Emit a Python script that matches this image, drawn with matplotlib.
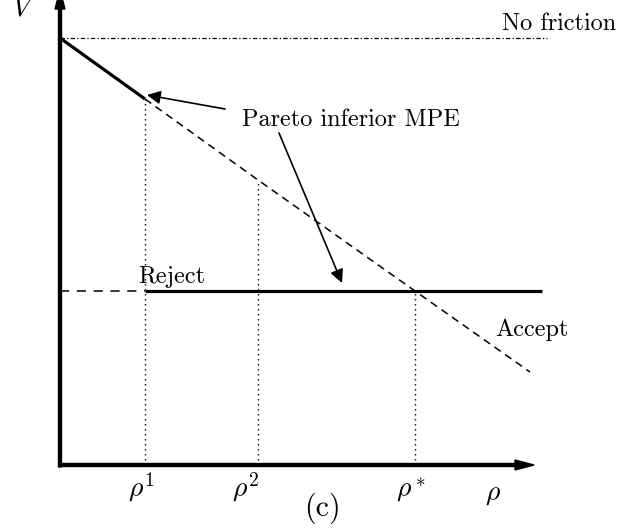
import matplotlib.pyplot as plt

plt.rcParams['mathtext.fontset'] = 'cm'

# values (origin at the corner of the axes, y upwards)
rho_names = [r'$\rho^1$', r'$\rho^2$', r'$\rho^*$']
rho_vals = [85, 198, 355]
accept_rho = [0, 85, 198, 355, 470]
accept_v = [427, 366, 285, 174, 93]
reject_rho = [0, 85, 482]
reject_v = [174, 174, 174]
nofriction_rho = [0, 487]
nofriction_v = [427, 427]
x_end = 474
y_end = 465

fig = plt.figure(figsize=(6.21, 5.29), dpi=100)
ax = fig.add_axes([0, 0, 1, 1])
ax.set_xlim(-60, 561)
ax.set_ylim(-64, 465)
ax.axis('off')

TXT = dict(fontfamily='cmr10', fontsize=17.5, color='k')

# axes with arrow heads
ax.arrow(0, 0, x_end, 0, width=3, head_width=10, head_length=19,
         length_includes_head=True, color='k', zorder=5)
ax.arrow(0, -2, 0, y_end + 12, width=3, head_width=10, head_length=19,
         length_includes_head=True, color='k', zorder=5)

# no friction level
ax.plot(nofriction_rho, nofriction_v, color='k', lw=0.9, dashes=(3.5, 1.8, 1, 1.8))

# accept curve: solid up to rho^1, dashed afterwards
ax.plot(accept_rho[:2], accept_v[:2], color='k', lw=2.3, solid_capstyle='butt')
ax.plot(accept_rho[1:], accept_v[1:], color='k', lw=1.1, dashes=(5, 3.5))

# reject level: dashed up to rho^1, solid afterwards
ax.plot(reject_rho[:2], reject_v[:2], color='k', lw=1.1, dashes=(6, 5))
ax.plot(reject_rho[1:], reject_v[1:], color='k', lw=2.3, solid_capstyle='butt')

# dotted verticals
tops = [accept_v[1], accept_v[2], reject_v[0]]
for r, t in zip(rho_vals, tops):
    ax.plot([r, r], [0, t], color='k', lw=1.0, dashes=(1, 2.6))

# tick labels
label_x = [81, 186, 351]
for name, lx in zip(rho_names, label_x):
    ax.text(lx, -32, name, fontsize=20, ha='center', va='baseline')
ax.text(433, -35, r'$\rho$', fontsize=20, ha='center', va='baseline')
ax.text(-36, 450, r'$V$', fontsize=20, ha='center', va='baseline')
ax.text(262, -43, '(c)', fontfamily='cmr10', fontsize=21.5, ha='center', va='center')

# curve labels
ax.text(442, 435, 'No friction', ha='left', va='baseline', **TXT)
ax.text(78, 182, 'Reject', ha='left', va='baseline', **TXT)
ax.text(435, 129, 'Accept', ha='left', va='baseline', **TXT)
ax.text(182, 339, 'Pareto inferior MPE', ha='left', va='baseline', **TXT)

arrow = dict(arrowstyle='-|>', lw=1.2, color='k', mutation_scale=20,
             shrinkA=0, shrinkB=0)
ax.annotate('', xy=(87, 370), xytext=(165, 356), arrowprops=arrow)
ax.annotate('', xy=(282, 182), xytext=(219, 332), arrowprops=arrow)

fig.savefig('out.png', dpi=100)
